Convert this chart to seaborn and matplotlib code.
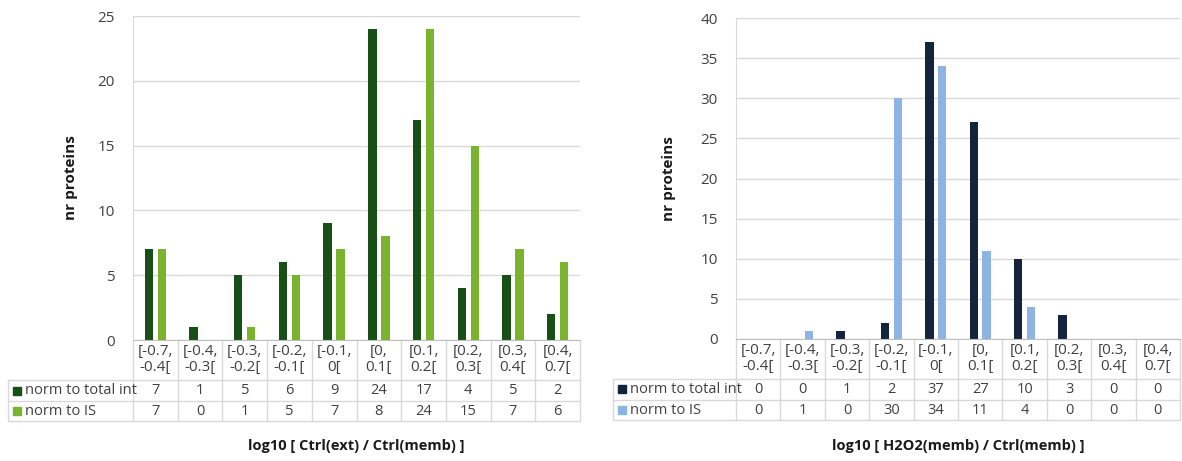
import pandas as pd
import matplotlib
matplotlib.use('Agg')
import matplotlib.pyplot as plt
import seaborn as sns
from matplotlib.patches import Rectangle

# bin labels shared by both panels
bins = ['[-0.7,\n-0.4[', '[-0.4,\n-0.3[', '[-0.3,\n-0.2[', '[-0.2,\n-0.1[', '[-0.1,\n0[',
        '[0,\n0.1[', '[0.1,\n0.2[', '[0.2,\n0.3[', '[0.3,\n0.4[', '[0.4,\n0.7[']
series_names = ['norm to total int', 'norm to IS']

# left panel: Ctrl(ext) / Ctrl(memb)
ext_total_int = [7, 1, 5, 6, 9, 24, 17, 4, 5, 2]
ext_is = [7, 0, 1, 5, 7, 8, 24, 15, 7, 6]

# right panel: H2O2(memb) / Ctrl(memb)
h2o2_total_int = [0, 0, 1, 2, 37, 27, 10, 3, 0, 0]
h2o2_is = [0, 1, 0, 30, 34, 11, 4, 0, 0, 0]

left_colors = ['#174f16', '#7ab32e']
right_colors = ['#15243d', '#8db4e2']

sns.set_style('white')
plt.rcParams['font.family'] = ['Open Sans', 'DejaVu Sans']

FIG_W, FIG_H = 1182, 461
fig = plt.figure(figsize=(FIG_W / 100, FIG_H / 100), dpi=100)

GRID = '#d9d9d9'
TXT = '#404040'


def draw_panel(ax, vals1, vals2, colors, ymax, ystep, xlabel, leg_px, ylab_px, xlab_px):
    df = pd.DataFrame({
        'bin': bins * 2,
        'count': vals1 + vals2,
        'series': [series_names[0]] * len(bins) + [series_names[1]] * len(bins),
    })
    sns.barplot(data=df, x='bin', y='count', hue='series', order=bins,
                hue_order=series_names, palette=colors, saturation=1,
                width=0.58, gap=0.35, linewidth=0, legend=False, ax=ax)

    ax.set_xlim(-0.5, len(bins) - 0.5)
    ax.set_ylim(0, ymax)
    ax.set_yticks(range(0, ymax + 1, ystep))
    ax.yaxis.grid(True, color=GRID, linewidth=1)
    ax.set_axisbelow(True)
    for s in ['top', 'right']:
        ax.spines[s].set_visible(False)
    ax.spines['left'].set_color(GRID)
    ax.spines['bottom'].set_color('#bfbfbf')
    ax.tick_params(axis='both', length=0, labelsize=11, colors=TXT)
    ax.tick_params(axis='y', pad=13)
    ax.tick_params(axis='x', pad=3)
    for lab in ax.get_xticklabels():
        lab.set_linespacing(1.1)
    ax.set_xlabel('')
    ax.set_ylabel('nr proteins', fontweight='bold', fontsize=11, color='#1a1a1a')

    pos = ax.get_position()
    W = pos.width * FIG_W
    H = pos.height * FIG_H
    ax.yaxis.set_label_coords(-ylab_px / W, 0.5)

    # data table below the plot
    r0, r1, r2 = -40 / H, -61 / H, -81 / H
    leg_left = -leg_px / W
    xt = ax.get_xaxis_transform()
    for k in range(len(bins) + 1):
        ax.plot([k - 0.5, k - 0.5], [0, r2], color=GRID, lw=1, transform=xt, clip_on=False)
    ax.plot([leg_left, leg_left], [r0, r2], color=GRID, lw=1, transform=ax.transAxes, clip_on=False)
    for r in (r0, r1, r2):
        ax.plot([leg_left, 1], [r, r], color=GRID, lw=1, transform=ax.transAxes, clip_on=False)

    rows = [(vals1, colors[0], series_names[0], (r0 + r1) / 2),
            (vals2, colors[1], series_names[1], (r1 + r2) / 2)]
    for vals, c, name, ym in rows:
        for i, v in enumerate(vals):
            ax.text(i, ym, str(v), transform=xt, ha='center', va='center',
                    fontsize=10.5, color=TXT)
        ax.add_patch(Rectangle((leg_left + 5 / W, ym - 4 / H), 8 / W, 8 / H,
                               transform=ax.transAxes, color=c, clip_on=False))
        ax.text(leg_left + 17 / W, ym, name, transform=ax.transAxes, ha='left',
                va='center', fontsize=10.5, color=TXT)

    ax.text(0.5, -xlab_px / H, xlabel, transform=ax.transAxes, ha='center',
            va='center', fontsize=10.5, fontweight='bold', color='#1a1a1a')


ax1 = fig.add_axes([133 / FIG_W, (FIG_H - 340) / FIG_H, 447 / FIG_W, 324 / FIG_H])
ax2 = fig.add_axes([736 / FIG_W, (FIG_H - 339) / FIG_H, 444 / FIG_W, 321 / FIG_H])

draw_panel(ax1, ext_total_int, ext_is, left_colors, 25, 5,
           'log10 [ Ctrl(ext) / Ctrl(memb) ]', 125, 55, 106)
draw_panel(ax2, h2o2_total_int, h2o2_is, right_colors, 40, 5,
           'log10 [ H2O2(memb) / Ctrl(memb) ]', 123, 60, 107)

fig.savefig('out.png', dpi=100, facecolor='white')
